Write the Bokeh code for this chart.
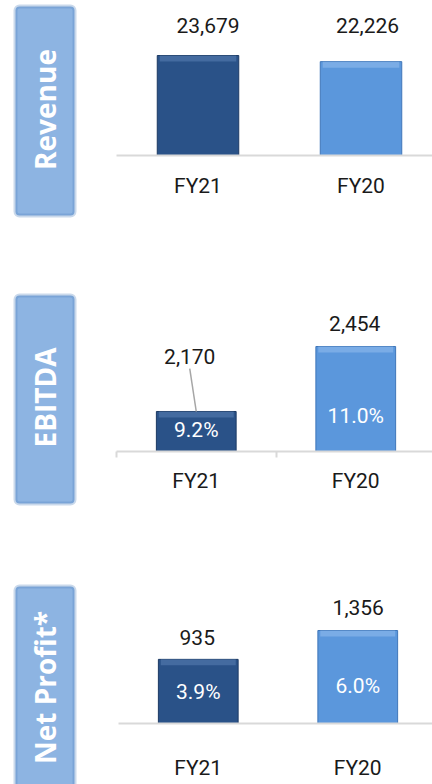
import math
from bokeh.plotting import figure
from bokeh.models import Range1d, FixedTicker, BoxAnnotation, Label, ColumnDataSource
from bokeh.layouts import column
from bokeh.embed import file_html
from bokeh.resources import INLINE
from bokeh.core.properties import value

# ---------------- data ----------------
categories = ["FY21", "FY20"]
panel_titles = ["Revenue", "EBITDA", "Net Profit*"]

revenue_labels = [23679, 22226]
revenue_bars = [23679, 22226]

ebitda_labels = [2170, 2454]
ebitda_bars = [935, 2454]          # FY21 bar is drawn short in the source chart
ebitda_margins = ["9.2%", "11.0%"]

net_profit_labels = [935, 1356]
net_profit_bars = [935, 1356]
net_profit_margins = ["3.9%", "6.0%"]

# ---------------- styles ----------------
BAR_FILL = ["#2A5288", "#5B97DC"]
BAR_LINE = ["#1C3A63", "#3F76B8"]
BAR_TOP = ["#5A80B4", "#93BDEE"]
BOX_FILL = "#8DB4E2"
BOX_LINE = "#4F81BD"
AXIS_COL = "#D9D9D9"
TXT = "#1A1A1A"
FONT = "Roboto"
W = 432

# per panel layout: h = panel height, axis = px from panel top to the axis line,
# scale = px per unit, spacing = px per category, left = px from panel left to category 0
panels = [
    dict(title=panel_titles[0], labels=revenue_labels, bars=revenue_bars, margins=None,
         h=290, axis=155, scale=100 / 23679, spacing=163, left=116,
         val_dx=[10, 6.5], val_dy=[-30, -36], pct_dy=None, standoff=12, minor=False,
         box_top=6, box_bottom=215, title_y=109),
    dict(title=panel_titles[1], labels=ebitda_labels, bars=ebitda_bars, margins=ebitda_margins,
         h=290, axis=161, scale=105 / 2454, spacing=159.5, left=116,
         val_dx=[-6.5, -1], val_dy=[-2, -23], pct_dy=[-1, 16.5], standoff=11, minor=True,
         box_top=5, box_bottom=213, title_y=107),
    dict(title=panel_titles[2], labels=net_profit_labels, bars=net_profit_bars, margins=net_profit_margins,
         h=204, axis=143, scale=93 / 1356, spacing=159.5, left=118,
         val_dx=[-1, 0.5], val_dy=[-22, -23], pct_dy=[1, 8.5], standoff=26, minor=False,
         box_top=6, box_bottom=240, title_y=107),
]

figs = []
for cfg in panels:
    h, A, ppu, sp, L = cfg["h"], cfg["axis"], cfg["scale"], cfg["spacing"], cfg["left"]

    def dx(px):  # panel-relative px -> data x
        return (px - L) / sp

    def dy(px):  # panel-relative px (from top) -> data y
        return (A - px) / ppu

    p = figure(width=W, height=h, x_range=Range1d(dx(0), dx(W)), y_range=Range1d(dy(h), dy(0)),
               output_backend="svg", toolbar_location=None, min_border=0,
               y_axis_location=None, outline_line_color=None)
    p.grid.visible = False

    # ---- title box ----
    p.add_layout(BoxAnnotation(left=dx(15), right=dx(74), top=dy(cfg["box_top"]),
                               bottom=dy(cfg["box_bottom"]),
                               fill_color=BOX_FILL, fill_alpha=1, line_color=BOX_LINE,
                               line_width=4, border_radius=4))
    p.add_layout(Label(x=dx(44), y=dy(cfg["title_y"]), text=cfg["title"], angle=math.pi / 2,
                       text_align="center", text_baseline="middle", text_color="white",
                       text_font="Open Sans", text_font_style="bold", text_font_size="28px"))

    # ---- bars ----
    xs = [i + 0.5 for i in range(len(categories))]
    bars = cfg["bars"]
    src = ColumnDataSource(dict(x=xs, top=bars, fill=BAR_FILL, line=BAR_LINE, hi=BAR_TOP,
                                hib=[b - 6 / ppu for b in bars]))
    p.vbar(x="x", top="top", bottom=0, width=0.5, fill_color="fill", line_color="line",
           line_width=1, source=src)
    p.vbar(x="x", top="top", bottom="hib", width=0.47, fill_color="hi", fill_alpha=0.55,
           line_color=None, source=src)

    if cfg["margins"]:
        psrc = ColumnDataSource(dict(x=xs, y=[b / 2 for b in bars], t=cfg["margins"],
                                     dy=cfg["pct_dy"]))
        p.text(x="x", y="y", text="t", y_offset="dy", text_align="center",
               text_baseline="middle", text_color="white", text_font=value(FONT),
               text_font_size="21px", source=psrc)

    labels = cfg["labels"]
    vsrc = ColumnDataSource(dict(x=xs, y=labels, t=[f"{v:,}" for v in labels],
                                 dx=cfg["val_dx"], dy=cfg["val_dy"]))
    p.text(x="x", y="y", text="t", x_offset="dx", y_offset="dy", text_align="center",
           text_baseline="middle", text_color=TXT, text_font=value(FONT),
           text_font_size="21px", source=vsrc)

    # leader lines where the label was moved away from its bar
    lx0, ly0, lx1, ly1 = [], [], [], []
    for x, lv, bv in zip(xs, labels, bars):
        if lv != bv:
            lx0.append(x - 6.5 / sp)
            ly0.append(lv - 10 / ppu)
            lx1.append(x)
            ly1.append(bv)
    if lx0:
        p.segment(x0=lx0, y0=ly0, x1=lx1, y1=ly1, line_color="#A6A6A6", line_width=1.5)

    # ---- category axis at y = 0 ----
    ax = p.xaxis[0]
    ax.fixed_location = 0
    ax.bounds = (0, dx(W))
    ax.ticker = FixedTicker(ticks=xs, minor_ticks=[0, 1, 2] if cfg["minor"] else [])
    ax.major_label_overrides = {x: c for x, c in zip(xs, categories)}
    ax.axis_line_color = AXIS_COL
    ax.axis_line_width = 2
    ax.major_tick_line_color = None
    ax.minor_tick_line_color = AXIS_COL if cfg["minor"] else None
    ax.minor_tick_line_width = 2
    ax.minor_tick_in = 0
    ax.minor_tick_out = 6
    ax.major_label_standoff = cfg["standoff"]
    ax.major_label_text_font = FONT
    ax.major_label_text_font_size = "21px"
    ax.major_label_text_color = TXT

    figs.append(p)

layout = column(*figs, spacing=0)
open("out.html", "w").write(file_html(layout, INLINE))
